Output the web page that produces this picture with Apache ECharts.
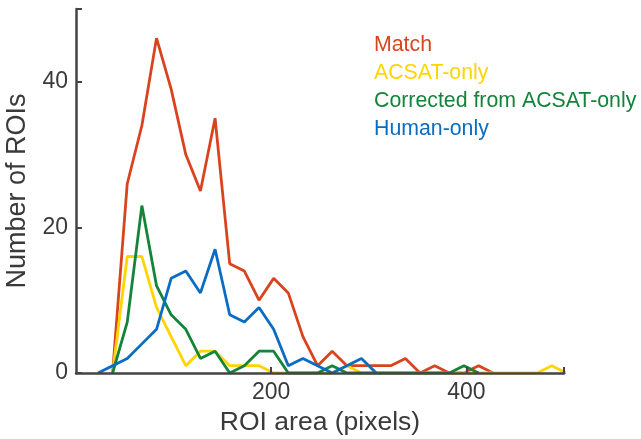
<!DOCTYPE html>
<html>
<head>
<meta charset="utf-8">
<script src="https://cdn.jsdelivr.net/npm/echarts@6/dist/echarts.min.js"></script>
<style>html,body{margin:0;padding:0;background:#fff}#c{width:641px;height:439px}</style>
</head>
<body>
<div id="c"></div>
<script>
// Bin centres (ROI area, pixels)
var binCenters = [7.5,22.5,37.5,52.5,67.5,82.5,97.5,112.5,127.5,142.5,157.5,172.5,187.5,202.5,217.5,232.5,247.5,262.5,277.5,292.5,307.5,322.5,337.5,352.5,367.5,382.5,397.5,412.5,427.5,442.5,457.5,472.5,487.5,502.5];
var seriesNames = ['Match','ACSAT-only','Corrected from ACSAT-only','Human-only'];
var matchVals     = [null,null,0,26,34,46,39,30,25,35,15,14,10,13,11,5,1,3,1,1,1,1,2,0,1,0,0,1,0,null,null,null,null,null];
var acsatVals     = [null,null,0,16,16,9,5,1,3,3,1,1,1,0,0,0,0,0,1,0,0,0,0,0,0,0,0,0,0,0,0,0,1,0];
var correctedVals = [null,null,0,7,23,12,8,6,2,3,0,1,3,3,0,0,0,1,0,0,0,0,0,0,0,0,1,0,null,null,null,null,null,null];
var humanVals     = [null,0,1,2,4,6,13,14,11,17,8,7,9,6,1,2,1,0,1,2,0,null,null,null,null,null,null,null,null,null,null,null,null,null];
var xTicks = [0,200,400];
var yTicks = [0,20,40];

var colors = ['#D9441F','#FFD500','#13843A','#0A6CC3'];
var allVals = [matchVals, acsatVals, correctedVals, humanVals];

function pairs(vals){
  var out = [];
  for (var i = 0; i < binCenters.length; i++) {
    out.push([binCenters[i], vals[i]]);
  }
  return out;
}

var FONT = '"Liberation Sans", Arial, sans-serif';
var TXT = '#3a3a3a';
var chart = echarts.init(document.getElementById('c'), null, {renderer:'canvas'});
chart.setOption({
  animation: false,
  grid: {left: 76, top: 9, width: 488, height: 364, containLabel: false, outerBoundsMode: 'none'},
  legend: {
    orient: 'vertical',
    left: 364, top: 30,
    icon: 'none',
    itemWidth: 0, itemHeight: 21, itemGap: 7,
    selectedMode: false,
    textStyle: {fontFamily: FONT, fontSize: 21.3},
    data: seriesNames.map(function(n, i){ return {name: n, textStyle: {color: colors[i]}}; })
  },
  xAxis: {
    type: 'value', min: 0, max: 500, interval: 200, z: 10,
    name: 'ROI area (pixels)', nameLocation: 'middle', nameGap: 35,
    nameTextStyle: {fontFamily: FONT, fontSize: 26.5, color: TXT},
    axisLine: {show: true, onZero: false, lineStyle: {color: '#444', width: 2.5}},
    axisTick: {show: true, inside: true, length: 6, lineStyle: {color: '#444', width: 2}},
    axisLabel: {fontFamily: FONT, fontSize: 23, color: TXT, margin: 8, showMinLabel: false,
      formatter: function(v){ return xTicks.indexOf(v) >= 0 ? String(v) : ''; }},
    splitLine: {show: false}
  },
  yAxis: {
    type: 'value', min: 0, max: 50, interval: 20, z: 10,
    name: 'Number of ROIs', nameLocation: 'middle', nameGap: 35,
    nameTextStyle: {fontFamily: FONT, fontSize: 27, color: TXT},
    axisLine: {show: true, lineStyle: {color: '#444', width: 2.5}},
    axisTick: {show: true, inside: true, length: 6, lineStyle: {color: '#444', width: 2}},
    axisLabel: {fontFamily: FONT, fontSize: 23, color: TXT, margin: 8,
      formatter: function(v){ return yTicks.indexOf(v) >= 0 ? String(v) : ''; }},
    splitLine: {show: false}
  },
  series: seriesNames.map(function(n, i){
    return {
      name: n, type: 'line', data: pairs(allVals[i]),
      showSymbol: false, symbol: 'none', connectNulls: false,
      lineStyle: {color: colors[i], width: 2.8},
      itemStyle: {color: colors[i]}
    };
  })
});
</script>
</body>
</html>
